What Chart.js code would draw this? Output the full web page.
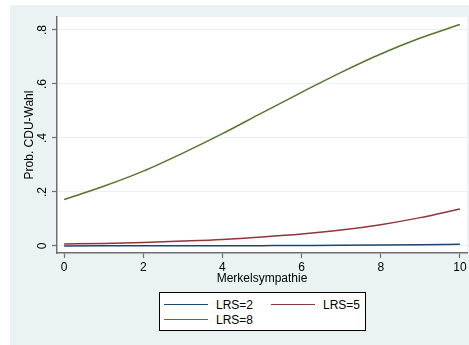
<!DOCTYPE html>
<html>
<head>
<meta charset="utf-8">
<script src="https://cdn.jsdelivr.net/npm/chart.js@4/dist/chart.umd.min.js"></script>
<style>
  body { margin: 0; background: #fff; }
  #wrap { position: relative; width: 469px; height: 345px; }
  #bg { position: absolute; left: 10px; top: 5px; width: 459px; height: 340px; background: #eaf2f3; }
  #chart { position: absolute; left: 0; top: 0; }
  #legend {
    position: absolute; left: 159px; top: 292px; width: 205px; height: 37px;
    background: #fff; border: 1px solid #000;
    font: 12px "Liberation Sans", Arial, sans-serif; color: #000;
  }
  .item { position: absolute; height: 14px; line-height: 14px; }
  .item span.line { position: absolute; left: 0; top: 6px; width: 44px; height: 0; border-top: 1.5px solid; }
  .item span.txt { position: absolute; left: 52px; top: 0; white-space: nowrap; }
</style>
</head>
<body>
<div id="wrap">
  <div id="bg"></div>
  <canvas id="chart" width="469" height="345"></canvas>
  <div id="legend"></div>
</div>
<script>
const xValues = [0, 1, 2, 3, 4, 5, 6, 7, 8, 9, 10];
const lrs2 = [0.0003, 0.0004, 0.0005, 0.0007, 0.0009, 0.0013, 0.0018, 0.0024, 0.0032, 0.0044, 0.006];
const lrs5 = [0.007, 0.0095, 0.013, 0.018, 0.024, 0.033, 0.044, 0.059, 0.079, 0.105, 0.137];
const lrs8 = [0.172, 0.221, 0.277, 0.344, 0.416, 0.493, 0.569, 0.643, 0.711, 0.770, 0.82];
const seriesNames = ['LRS=2', 'LRS=5', 'LRS=8'];
const seriesColors = ['#1a476f', '#90353b', '#55752f'];
const xTicks = [0, 2, 4, 6, 8, 10];
const yTicks = [0, 0.2, 0.4, 0.6, 0.8];
const yTickLabels = ['0', '.2', '.4', '.6', '.8'];

const font = '"Liberation Sans", Arial, sans-serif';
const axisGray = '#6f6f6f';

function toPoints(vals) {
  return xValues.map((x, i) => ({ x: x, y: vals[i] }));
}

const allSeries = [lrs2, lrs5, lrs8];

// white plot region + rotated y tick labels (Stata style)
const plotBg = {
  id: 'plotBg',
  beforeDraw(chart) {
    const a = chart.chartArea;
    const ctx = chart.ctx;
    ctx.save();
    ctx.fillStyle = '#fff';
    ctx.fillRect(a.left, a.top, a.right - a.left, a.bottom - a.top);
    ctx.restore();
  },
  afterDraw(chart) {
    const ctx = chart.ctx;
    const ys = chart.scales.y;
    ctx.save();
    ctx.fillStyle = '#000';
    ctx.font = '12px ' + font;
    ctx.textAlign = 'center';
    ctx.textBaseline = 'middle';
    yTicks.forEach((v, i) => {
      ctx.save();
      ctx.translate(43, ys.getPixelForValue(v));
      ctx.rotate(-Math.PI / 2);
      ctx.fillText(yTickLabels[i], 0, 0);
      ctx.restore();
    });
    ctx.restore();
  }
};

const ctx = document.getElementById('chart').getContext('2d');
const chart = new Chart(ctx, {
  type: 'line',
  data: {
    datasets: allSeries.map((vals, i) => ({
      label: seriesNames[i],
      data: toPoints(vals),
      borderColor: seriesColors[i],
      borderWidth: 1.5,
      pointRadius: 0,
      fill: false,
      cubicInterpolationMode: 'monotone'
    }))
  },
  options: {
    responsive: false,
    animation: false,
    layout: { padding: { left: 0, top: 17, right: 2, bottom: 0 } },
    plugins: {
      legend: { display: false },
      tooltip: { enabled: false }
    },
    scales: {
      x: {
        type: 'linear',
        min: -0.18,
        max: 10.18,
        afterBuildTicks: s => { s.ticks = xTicks.map(v => ({ value: v })); },
        afterFit: s => { s.height = 92; },
        grid: { display: true, drawOnChartArea: false, tickLength: 5, tickColor: axisGray, tickWidth: 1.2 },
        border: { color: axisGray, width: 1.5 },
        ticks: { color: '#000', font: { family: font, size: 12 }, padding: 2, maxRotation: 0 },
        title: { display: true, text: 'Merkelsympathie', color: '#000', font: { family: font, size: 12 }, padding: { bottom: 59 } }
      },
      y: {
        type: 'linear',
        min: -0.026,
        max: 0.848,
        afterBuildTicks: s => { s.ticks = yTicks.map(v => ({ value: v })); },
        afterFit: s => { s.width = 57; },
        grid: { color: '#e8f0f1', lineWidth: 1, tickLength: 5, tickColor: axisGray, tickWidth: 1.2 },
        border: { color: axisGray, width: 1.5 },
        ticks: { display: false },
        title: { display: true, text: 'Prob. CDU-Wahl', color: '#000', font: { family: font, size: 12 }, padding: { top: 22 } }
      }
    }
  },
  plugins: [plotBg]
});

// legend built from the series
const legend = document.getElementById('legend');
const slots = [[4, 5], [111, 5], [4, 20]];
seriesNames.forEach((name, i) => {
  const d = document.createElement('div');
  d.className = 'item';
  d.style.left = slots[i][0] + 'px';
  d.style.top = slots[i][1] + 'px';
  d.innerHTML = '<span class="line" style="border-color:' + seriesColors[i] + '"></span><span class="txt">' + name + '</span>';
  legend.appendChild(d);
});
</script>
</body>
</html>
